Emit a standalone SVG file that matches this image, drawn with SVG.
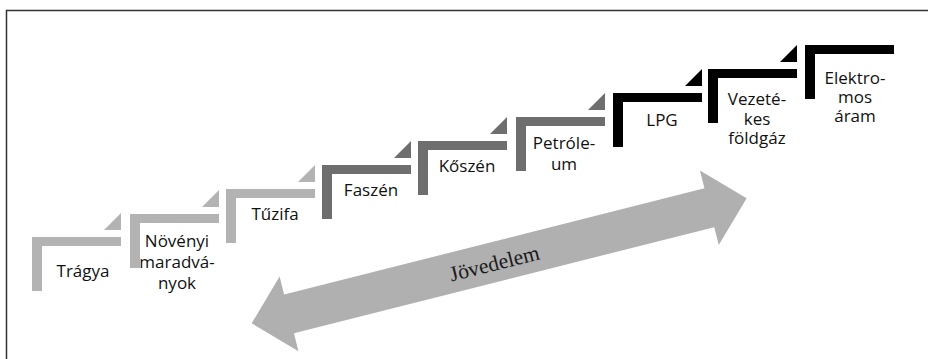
<svg xmlns="http://www.w3.org/2000/svg" width="928" height="359" viewBox="0 0 928 359">
<style>
.lt{fill:#b3b3b3}
.dk{fill:#6e6e6e}
.bk{fill:#000}
.lbl{font-family:"Open Sans","Liberation Sans",sans-serif;font-size:17px;fill:#111;text-anchor:middle}
.arr{fill:#b0b0b0}
.arrlbl{font-family:"Liberation Serif","Times New Roman",serif;font-size:21.5px;fill:#1a1a1a;text-anchor:middle}
</style>
<defs>
<g id="bars"><rect x="0" y="0" width="89" height="9"/><rect x="0" y="0" width="10" height="54"/></g>
<polygon id="tri" points="72,-7 89,-24 89,-7"/>
</defs>
<rect x="6.5" y="10.5" width="1000" height="400" fill="#fff" stroke="#333" stroke-width="1.5"/>
<g id="connectors">
<g id="income-arrow" transform="translate(251.7,323.3) rotate(-14.17)">
<polygon class="arr" points="0,0 38.5,-38.5 38.5,-20 472,-20 472,-38.5 510.5,0 472,38.5 472,20 38.5,20 38.5,38.5"/>
<text class="arrlbl" x="250" y="8.5">Jövedelem</text>
</g>
</g>
<g id="tragya" class="lt" transform="translate(32,237)"><use href="#bars"/><use href="#tri"/><text class="lbl" x="51" y="39.5">Trágya</text></g>
<g id="novenyi" class="lt" transform="translate(130,214)"><use href="#bars"/><use href="#tri"/><text class="lbl" x="47"><tspan x="47" y="33">Növényi</tspan><tspan x="47" y="54">maradvá-</tspan><tspan x="47" y="75">nyok</tspan></text></g>
<g id="tuzifa" class="lt" transform="translate(226,189)"><use href="#bars"/><use href="#tri"/><text class="lbl" x="49" y="31">Tűzifa</text></g>
<g id="faszen" class="dk" transform="translate(322,165)"><use href="#bars"/><use href="#tri"/><text class="lbl" x="49" y="31">Faszén</text></g>
<g id="koszen" class="dk" transform="translate(418,141)"><use href="#bars"/><use href="#tri"/><text class="lbl" x="49" y="31">Kőszén</text></g>
<g id="petroleum" class="dk" transform="translate(516,117)"><use href="#bars"/><use href="#tri"/><text class="lbl"><tspan x="48" y="32">Petróle-</tspan><tspan x="48" y="53">um</tspan></text></g>
<g id="lpg" class="bk" transform="translate(613,93)"><use href="#bars"/><use href="#tri"/><text class="lbl" x="49" y="32.5">LPG</text></g>
<g id="vezetekes" class="bk" transform="translate(708,69)"><use href="#bars"/><use href="#tri"/><text class="lbl"><tspan x="49" y="36">Vezeté-</tspan><tspan x="49" y="55.5">kes</tspan><tspan x="49" y="75">földgáz</tspan></text></g>
<g id="elektromos" class="bk" transform="translate(805,45)"><use href="#bars"/><text class="lbl"><tspan x="50" y="38.5">Elektro-</tspan><tspan x="50" y="57.5">mos</tspan><tspan x="50" y="77">áram</tspan></text></g>
</svg>
